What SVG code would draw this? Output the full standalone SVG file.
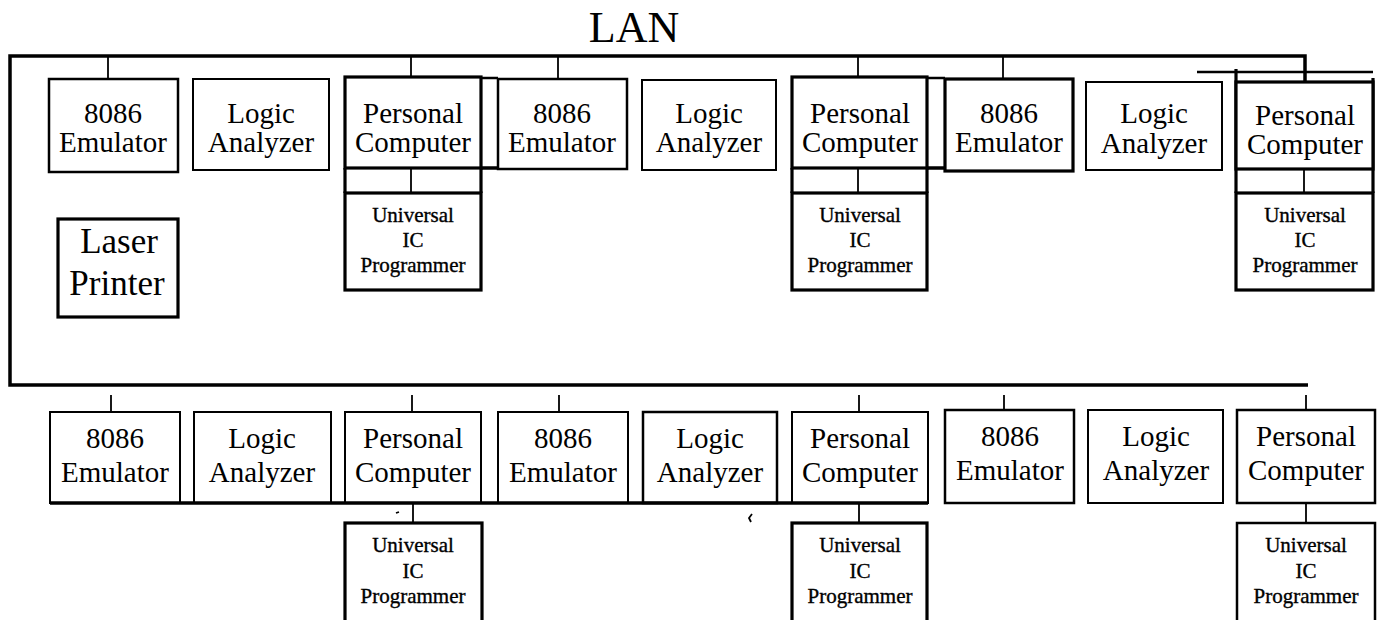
<svg xmlns="http://www.w3.org/2000/svg" width="1379" height="620" viewBox="0 0 1379 620">
<style>
  .bg{fill:#fff}
  .box{fill:#fff;stroke:#000;stroke-width:2.5}
  .thin{fill:#fff;stroke:#000;stroke-width:2}
  .thick{fill:#fff;stroke:#000;stroke-width:3.2}
  .bus{fill:none;stroke:#000;stroke-width:3.5}
  .tick{fill:none;stroke:#000;stroke-width:1.8}
  .ln{fill:none;stroke:#000;stroke-width:2.5}
  .lnk{fill:none;stroke:#000;stroke-width:3.5}
  text{font-family:"Liberation Serif","Times New Roman",serif;fill:#000;text-anchor:middle}
  .t{font-size:29px}
  .u{font-size:21px;stroke:#000;stroke-width:0.35}
  .lp{font-size:35px}
  .lan{font-size:44px}
</style>
<rect class="bg" x="0" y="0" width="1379" height="620"/>
<text class="lan" x="634" y="42">LAN</text>

<g id="connectors">
  <polyline class="bus" points="1305,82 1305,56 10,56 10,385 1308,385"/>
  <line class="ln" x1="1197" y1="72" x2="1373" y2="72"/>
  <line class="tick" x1="108" y1="56" x2="108" y2="79"/>
  <line class="tick" x1="411" y1="56" x2="411" y2="77"/>
  <line class="tick" x1="558" y1="56" x2="558" y2="79"/>
  <line class="tick" x1="858" y1="56" x2="858" y2="77"/>
  <line class="tick" x1="1003" y1="56" x2="1003" y2="79"/>
  <line class="tick" x1="411" y1="168" x2="411" y2="193"/>
  <line class="tick" x1="858" y1="168" x2="858" y2="193"/>
  <line class="tick" x1="1304" y1="170" x2="1304" y2="193"/>
  <polyline class="ln" points="481,78 498,78"/>
  <polyline class="lnk" points="481,168 498,168"/>
  <polyline class="ln" points="927,78 945,78"/>
  <polyline class="lnk" points="927,168 945,168"/>
  <line class="thick" x1="345" y1="168" x2="345" y2="193"/>
  <line class="thick" x1="481" y1="168" x2="481" y2="193"/>
  <line class="thick" x1="792" y1="168" x2="792" y2="193"/>
  <line class="thick" x1="927" y1="168" x2="927" y2="193"/>
  <line class="thick" x1="1236" y1="69" x2="1236" y2="193"/>
  <line class="thick" x1="1373" y1="78" x2="1373" y2="193"/>
  <line class="tick" x1="111" y1="395" x2="111" y2="412"/>
  <line class="tick" x1="412" y1="395" x2="412" y2="412"/>
  <line class="tick" x1="559" y1="395" x2="559" y2="412"/>
  <line class="tick" x1="859" y1="395" x2="859" y2="412"/>
  <line class="tick" x1="1004" y1="395" x2="1004" y2="410"/>
  <line class="tick" x1="1306" y1="395" x2="1306" y2="410"/>
  <line class="tick" x1="413" y1="503" x2="413" y2="523"/>
  <line class="tick" x1="859" y1="503" x2="859" y2="523"/>
  <line class="tick" x1="1306" y1="503" x2="1306" y2="523"/>
  <line class="tick" x1="396" y1="513" x2="399" y2="512"/>
  <path class="tick" d="M752,514 L749,518 L751,522"/>
</g>

<g id="emu1"><rect class="box" x="49" y="79" width="129" height="93"/><text class="t" x="113" y="123">8086</text><text class="t" x="113" y="152">Emulator</text></g>
<g id="logic1"><rect class="thin" x="193" y="79" width="136" height="91"/><text class="t" x="261" y="123">Logic</text><text class="t" x="261" y="152">Analyzer</text></g>
<g id="pc1"><rect class="thick" x="345" y="77" width="136" height="91"/><text class="t" x="413" y="123">Personal</text><text class="t" x="413" y="152">Computer</text></g>
<g id="uip1"><rect class="thick" x="345" y="193" width="136" height="97"/><text class="u" x="413" y="222">Universal</text><text class="u" x="413" y="247">IC</text><text class="u" x="413" y="272">Programmer</text></g>
<g id="emu2"><rect class="box" x="498" y="79" width="129" height="90"/><text class="t" x="562" y="123">8086</text><text class="t" x="562" y="152">Emulator</text></g>
<g id="logic2"><rect class="thin" x="642" y="80" width="134" height="90"/><text class="t" x="709" y="123">Logic</text><text class="t" x="709" y="152">Analyzer</text></g>
<g id="pc2"><rect class="thick" x="792" y="77" width="135" height="91"/><text class="t" x="860" y="123">Personal</text><text class="t" x="860" y="152">Computer</text></g>
<g id="uip2"><rect class="thick" x="792" y="193" width="135" height="97"/><text class="u" x="860" y="222">Universal</text><text class="u" x="860" y="247">IC</text><text class="u" x="860" y="272">Programmer</text></g>
<g id="emu3"><rect class="thick" x="945" y="79" width="128" height="92"/><text class="t" x="1009" y="123">8086</text><text class="t" x="1009" y="152">Emulator</text></g>
<g id="logic3"><rect class="thin" x="1086" y="82" width="136" height="88"/><text class="t" x="1154" y="123">Logic</text><text class="t" x="1154" y="153">Analyzer</text></g>
<g id="pc3"><rect class="thick" x="1236" y="82" width="137" height="87"/><text class="t" x="1305" y="125">Personal</text><text class="t" x="1305" y="154">Computer</text></g>
<g id="uip3"><rect class="thick" x="1236" y="193" width="137" height="97"/><text class="u" x="1305" y="222">Universal</text><text class="u" x="1305" y="247">IC</text><text class="u" x="1305" y="272">Programmer</text></g>

<g id="laser"><rect class="thick" x="58" y="219" width="120" height="98"/><text class="lp" x="119" y="253">Laser</text><text class="lp" x="117" y="295">Printer</text></g>

<g id="emu4"><rect class="thin" x="50" y="412" width="130" height="91"/><text class="t" x="115" y="448">8086</text><text class="t" x="115" y="482">Emulator</text></g>
<g id="logic4"><rect class="thin" x="194" y="412" width="137" height="91"/><text class="t" x="262" y="448">Logic</text><text class="t" x="262" y="482">Analyzer</text></g>
<g id="pc4"><rect class="thin" x="345" y="412" width="136" height="91"/><text class="t" x="413" y="448">Personal</text><text class="t" x="413" y="482">Computer</text></g>
<g id="uip4"><rect class="thick" x="345" y="523" width="137" height="105"/><text class="u" x="413" y="552">Universal</text><text class="u" x="413" y="578">IC</text><text class="u" x="413" y="603">Programmer</text></g>
<g id="emu5"><rect class="thin" x="498" y="412" width="130" height="91"/><text class="t" x="563" y="448">8086</text><text class="t" x="563" y="482">Emulator</text></g>
<g id="logic5"><rect class="box" x="643" y="412" width="134" height="91"/><text class="t" x="710" y="448">Logic</text><text class="t" x="710" y="482">Analyzer</text></g>
<g id="pc5"><rect class="thin" x="792" y="412" width="136" height="91"/><text class="t" x="860" y="448">Personal</text><text class="t" x="860" y="482">Computer</text></g>
<g id="uip5"><rect class="thick" x="792" y="523" width="135" height="105"/><text class="u" x="860" y="552">Universal</text><text class="u" x="860" y="578">IC</text><text class="u" x="860" y="603">Programmer</text></g>
<g id="emu6"><rect class="box" x="945" y="410" width="129" height="93"/><text class="t" x="1010" y="446">8086</text><text class="t" x="1010" y="480">Emulator</text></g>
<g id="logic6"><rect class="thin" x="1088" y="410" width="135" height="93"/><text class="t" x="1156" y="446">Logic</text><text class="t" x="1156" y="480">Analyzer</text></g>
<g id="pc6"><rect class="box" x="1237" y="410" width="138" height="93"/><text class="t" x="1306" y="446">Personal</text><text class="t" x="1306" y="480">Computer</text></g>
<g id="uip6"><rect class="box" x="1237" y="523" width="138" height="105"/><text class="u" x="1306" y="552">Universal</text><text class="u" x="1306" y="578">IC</text><text class="u" x="1306" y="603">Programmer</text></g>

<g id="rowbase">
  <line class="lnk" x1="50" y1="503" x2="928" y2="503"/>
</g>
</svg>
